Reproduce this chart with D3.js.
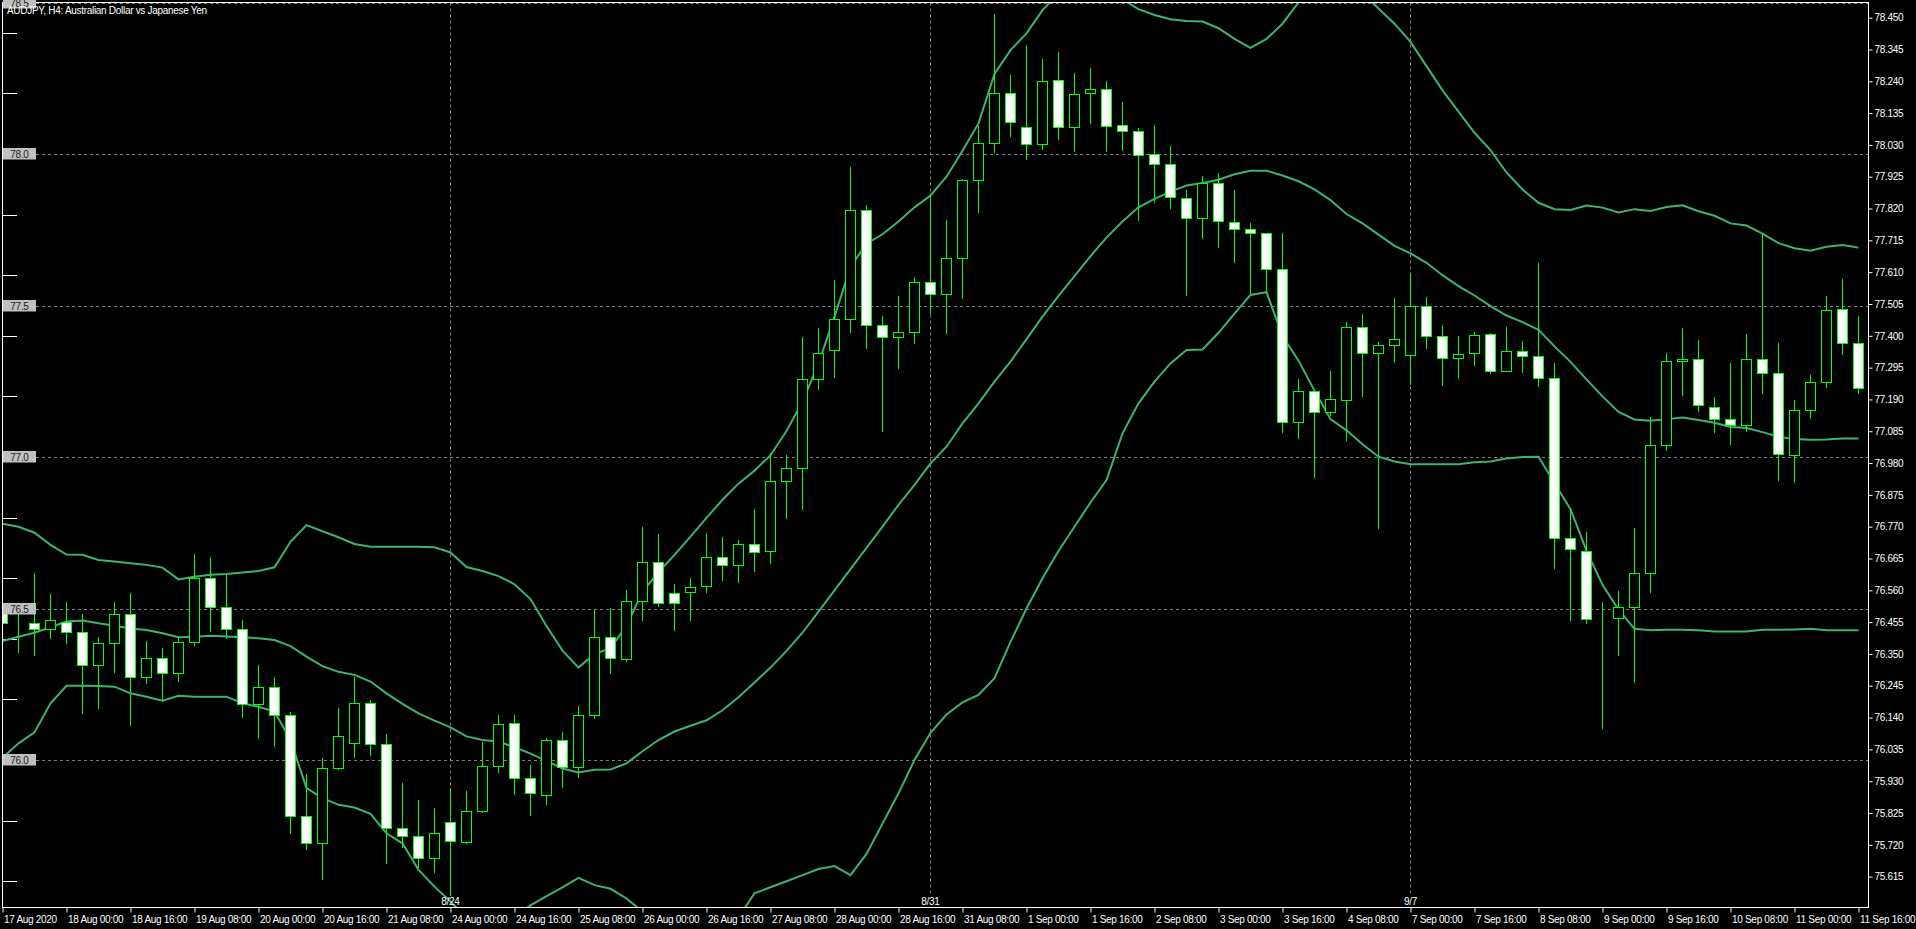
<!DOCTYPE html>
<html><head><meta charset="utf-8">
<script src="https://cdn.jsdelivr.net/npm/d3@7"></script>
<style>
html,body{margin:0;padding:0;background:#000;overflow:hidden;}
svg{display:block;}
text{font-family:"Liberation Sans",Arial,sans-serif;font-size:10px;letter-spacing:-0.3px;}
</style></head><body>
<svg id="chart" width="1916" height="929"></svg>
<script>
const chartTitle = "AUDJPY, H4:  Australian Dollar vs Japanese Yen";

const openPrices = [76.484,76.455,76.451,76.431,76.457,76.422,76.313,76.385,76.481,76.273,76.336,76.286,76.388,76.600,76.504,76.431,76.184,76.240,76.148,75.814,
75.725,75.973,76.055,76.187,76.052,75.775,75.748,75.677,75.797,75.729,75.831,75.979,76.121,75.940,75.883,76.065,75.976,76.147,76.405,76.332,
76.526,76.653,76.551,76.554,76.573,76.669,76.643,76.714,76.690,76.920,76.965,77.257,77.353,77.454,77.814,77.434,77.395,77.412,77.579,77.538,
77.656,77.913,78.035,78.200,78.088,78.032,78.243,78.088,78.200,78.214,78.095,78.075,77.999,77.966,77.856,77.788,77.905,77.777,77.751,77.738,
77.622,77.114,77.217,77.150,77.188,77.428,77.343,77.371,77.335,77.498,77.399,77.327,77.343,77.405,77.283,77.351,77.333,77.260,76.732,76.691,
76.470,76.470,76.506,76.616,77.041,77.316,77.325,77.166,77.124,77.104,77.322,77.277,77.008,77.154,77.249,77.487,77.375];
const highPrices = [76.520,76.484,76.618,76.548,76.522,76.482,76.406,76.522,76.551,76.392,76.370,76.407,76.680,76.669,76.611,76.462,76.314,76.274,76.159,75.954,
76.007,76.172,76.275,76.198,76.086,75.923,75.868,75.841,75.907,75.899,76.061,76.149,76.149,75.984,76.073,76.092,76.178,76.494,76.501,76.562,
76.770,76.747,76.580,76.601,76.750,76.737,76.727,76.830,77.014,77.007,77.395,77.426,77.584,77.956,77.831,77.465,77.531,77.593,77.861,77.782,
77.917,78.092,78.462,78.261,78.360,78.312,78.337,78.266,78.284,78.241,78.172,78.086,78.095,78.027,77.881,77.928,77.936,77.882,77.772,77.738,
77.738,77.257,77.220,77.284,77.445,77.472,77.380,77.525,77.603,77.528,77.436,77.400,77.412,77.409,77.428,77.382,77.641,77.309,76.831,76.754,
76.523,76.558,76.766,77.132,77.344,77.425,77.386,77.198,77.311,77.406,77.735,77.377,77.188,77.271,77.533,77.588,77.465];
const lowPrices = [76.430,76.358,76.347,76.404,76.387,76.154,76.173,76.292,76.115,76.255,76.198,76.262,76.379,76.427,76.404,76.143,76.074,76.047,75.760,75.707,
75.607,75.970,76.011,76.018,75.659,75.714,75.648,75.629,75.554,75.726,75.830,75.959,75.888,75.817,75.854,75.911,75.943,76.138,76.287,76.326,
76.462,76.507,76.429,76.462,76.556,76.593,76.588,76.625,76.650,76.800,76.830,77.223,77.265,77.414,77.361,77.087,77.293,77.375,77.474,77.408,
77.524,77.810,78.008,78.061,77.982,78.016,78.048,78.011,78.103,78.011,78.013,77.782,77.840,77.823,77.536,77.724,77.694,77.644,77.541,77.541,
77.084,77.063,76.933,77.138,77.057,77.202,76.767,77.315,77.242,77.361,77.237,77.262,77.302,77.277,77.283,77.282,77.235,76.635,76.461,76.451,
76.104,76.345,76.257,76.556,77.024,77.206,77.153,77.083,77.044,77.087,77.210,76.925,76.919,77.130,77.232,77.341,77.210];
const closePrices = [76.451,76.455,76.431,76.461,76.422,76.313,76.385,76.481,76.273,76.336,76.286,76.388,76.602,76.504,76.431,76.184,76.240,76.148,75.814,75.725,
75.973,76.078,76.187,76.052,75.776,75.749,75.677,75.758,75.732,75.831,75.979,76.118,75.940,75.891,76.065,75.976,76.147,76.405,76.337,76.526,
76.653,76.517,76.517,76.570,76.669,76.643,76.714,76.688,76.920,76.963,77.257,77.342,77.454,77.814,77.436,77.395,77.412,77.579,77.538,77.656,
77.913,78.035,78.200,78.105,78.032,78.241,78.088,78.197,78.214,78.094,78.075,77.996,77.966,77.857,77.788,77.905,77.779,77.751,77.739,77.622,
77.114,77.217,77.150,77.191,77.428,77.343,77.369,77.389,77.500,77.399,77.327,77.339,77.401,77.283,77.351,77.333,77.260,76.732,76.696,76.465,
76.470,76.504,76.616,77.041,77.316,77.325,77.170,77.124,77.104,77.322,77.277,77.011,77.154,77.247,77.485,77.375,77.227];

const bbUpper = [76.780,76.770,76.750,76.710,76.678,76.677,76.660,76.655,76.649,76.644,76.635,76.596,76.605,76.611,76.614,76.619,76.624,76.636,76.720,76.775,
76.755,76.735,76.713,76.704,76.704,76.704,76.704,76.702,76.685,76.637,76.624,76.607,76.580,76.531,76.442,76.361,76.305,76.350,76.369,76.442,
76.556,76.620,76.677,76.737,76.799,76.859,76.912,76.955,77.006,77.086,77.183,77.309,77.463,77.628,77.704,77.735,77.777,77.824,77.863,77.925,
78.011,78.101,78.264,78.343,78.398,78.475,78.530,78.570,78.580,78.550,78.510,78.478,78.459,78.445,78.439,78.437,78.415,78.380,78.350,78.380,
78.430,78.500,78.540,78.560,78.560,78.530,78.480,78.430,78.370,78.290,78.210,78.140,78.070,78.013,77.939,77.883,77.839,77.818,77.815,77.830,
77.823,77.807,77.818,77.812,77.825,77.831,77.811,77.796,77.771,77.764,77.737,77.706,77.689,77.681,77.694,77.700,77.691];
const bbMiddle = [76.393,76.407,76.420,76.438,76.457,76.460,76.451,76.443,76.434,76.429,76.418,76.405,76.407,76.410,76.408,76.405,76.402,76.396,76.376,76.341,
76.310,76.291,76.281,76.259,76.220,76.185,76.154,76.130,76.108,76.078,76.066,76.061,76.042,76.021,75.997,75.972,75.959,75.968,75.969,75.989,
76.029,76.066,76.094,76.113,76.131,76.164,76.207,76.256,76.305,76.360,76.420,76.490,76.560,76.630,76.700,76.770,76.842,76.908,76.979,77.034,
77.111,77.177,77.249,77.315,77.389,77.463,77.532,77.597,77.663,77.724,77.777,77.824,77.852,77.876,77.896,77.904,77.915,77.933,77.945,77.945,
77.929,77.910,77.883,77.848,77.802,77.771,77.734,77.697,77.672,77.641,77.600,77.564,77.533,77.498,77.467,77.445,77.420,77.365,77.314,77.256,
77.200,77.149,77.124,77.120,77.125,77.130,77.122,77.113,77.099,77.096,77.082,77.067,77.059,77.057,77.058,77.061,77.061];
const bbLower = [76.007,76.055,76.091,76.187,76.245,76.245,76.244,76.242,76.220,76.209,76.196,76.212,76.209,76.209,76.209,76.187,76.176,76.160,76.066,75.907,
75.874,75.852,75.843,75.822,75.758,75.725,75.637,75.582,75.533,75.480,75.460,75.460,75.480,75.520,75.551,75.580,75.611,75.587,75.575,75.543,
75.500,75.450,75.410,75.390,75.390,75.410,75.480,75.560,75.580,75.600,75.620,75.640,75.650,75.620,75.690,75.790,75.890,76.000,76.090,76.150,
76.190,76.215,76.270,76.390,76.500,76.600,76.690,76.770,76.850,76.924,77.078,77.177,77.249,77.309,77.353,77.355,77.410,77.473,77.535,77.544,
77.399,77.318,77.219,77.125,77.088,77.042,77.001,76.985,76.976,76.976,76.976,76.976,76.983,76.985,76.995,77.000,77.001,76.914,76.828,76.691,
76.578,76.496,76.433,76.428,76.430,76.430,76.428,76.424,76.424,76.424,76.430,76.430,76.431,76.433,76.428,76.428,76.428];

const timeTickLabels = ["17 Aug 2020","18 Aug 00:00","18 Aug 16:00","19 Aug 08:00","20 Aug 00:00","20 Aug 16:00","21 Aug 08:00","24 Aug 00:00",
"24 Aug 16:00","25 Aug 08:00","26 Aug 00:00","26 Aug 16:00","27 Aug 08:00","28 Aug 00:00","28 Aug 16:00","31 Aug 08:00","1 Sep 00:00",
"1 Sep 16:00","2 Sep 08:00","3 Sep 00:00","3 Sep 16:00","4 Sep 08:00","7 Sep 00:00","7 Sep 16:00","8 Sep 08:00","9 Sep 00:00","9 Sep 16:00",
"10 Sep 08:00","11 Sep 00:00","11 Sep 16:00"];
const barsPerTimeTick = 4;
const weekSeparators = [{label:"8/24", bar:28},{label:"8/31", bar:58},{label:"9/7", bar:88}];
const priceTicks = [75.615,75.720,75.825,75.930,76.035,76.140,76.245,76.350,76.455,76.560,76.665,76.770,76.875,76.980,77.085,77.190,77.295,77.400,77.505,77.610,77.715,77.820,77.925,78.030,78.135,78.240,78.345,78.450];
const roundLevels = [78.5,78.0,77.5,77.0,76.5,76.0];
const minorLevels = [75.6,75.8,76.0,76.2,76.4,76.6,76.8,77.0,77.2,77.4,77.6,77.8,78.0,78.2,78.4];

const candles = openPrices.map((o,i)=>({i, o, h:highPrices[i], l:lowPrices[i], c:closePrices[i]}));

const W = 1916, H = 929;
const L = 2.5, R = 1868.5, T = 2.5, B = 907.5;
const svg = d3.select("#chart");
svg.append("rect").attr("width",W).attr("height",H).attr("fill","#000");

const x = d3.scaleLinear().domain([0, candles.length-1]).range([2.5, 2.5 + 16*(candles.length-1)]);
const y = d3.scaleLinear().domain([76, 78]).range([760, 154]);
const py = v => Math.round(y(v)) + 0.5;

svg.append("clipPath").attr("id","plot").append("rect").attr("x",L).attr("y",T).attr("width",R-L).attr("height",B-T);
const plot = svg.append("g").attr("clip-path","url(#plot)");

// horizontal dashed round levels
plot.selectAll("line.lvl").data(roundLevels).join("line").attr("class","lvl")
  .attr("x1",36).attr("x2",R).attr("y1",d=>py(d)).attr("y2",d=>py(d))
  .attr("stroke","#808080").attr("stroke-dasharray","3,3").attr("stroke-width",1);

// week separators
plot.selectAll("line.wk").data(weekSeparators).join("line").attr("class","wk")
  .attr("x1",d=>x(d.bar)).attr("x2",d=>x(d.bar)).attr("y1",T).attr("y2",893)
  .attr("stroke","#808080").attr("stroke-dasharray","3,3").attr("stroke-width",1);

// minor ticks on the left
plot.selectAll("line.mt").data(minorLevels).join("line").attr("class","mt")
  .attr("x1",L).attr("x2",17).attr("y1",d=>py(d)).attr("y2",d=>py(d))
  .attr("stroke","#fff").attr("stroke-width",1);

// Bollinger bands
const bandLine = d3.line().x((d,i)=>x(i)).y(d=>y(d));
[bbUpper, bbMiddle, bbLower].forEach(arr=>{
  plot.append("path").datum(arr).attr("d",bandLine).attr("fill","none")
    .attr("stroke","#3CB371").attr("stroke-width",2);
});

// candles
const cg = plot.selectAll("g.candle").data(candles).join("g").attr("class","candle");
cg.append("line").attr("x1",d=>x(d.i)).attr("x2",d=>x(d.i))
  .attr("y1",d=>Math.round(y(d.h))).attr("y2",d=>Math.round(y(d.l))+1)
  .attr("stroke","#00ff00").attr("stroke-width",1);
cg.append("rect")
  .attr("x",d=>x(d.i)-5).attr("width",10)
  .attr("y",d=>py(Math.max(d.o,d.c)))
  .attr("height",d=>Math.max(0, py(Math.min(d.o,d.c)) - py(Math.max(d.o,d.c))))
  .attr("fill",d=>d.c>=d.o ? "#000" : "#fff")
  .attr("stroke","#00ff00").attr("stroke-width",1);

// week labels
plot.selectAll("text.wk").data(weekSeparators).join("text").attr("class","wk")
  .attr("x",d=>x(d.bar)).attr("y",905).attr("text-anchor","middle").attr("fill","#fff").text(d=>d.label);

// frame
svg.append("rect").attr("x",L).attr("y",T).attr("width",R-L).attr("height",B-T)
  .attr("fill","none").attr("stroke","#fff").attr("stroke-width",1);

// left round-level labels (drawn over the frame, like the reference)
const lab = svg.selectAll("g.lab").data(roundLevels).join("g").attr("class","lab");
lab.append("rect").attr("x",3).attr("width",33).attr("y",d=>Math.round(y(d))-6).attr("height",11.5).attr("fill","#c0c0c0");
lab.append("text").attr("x",19.5).attr("y",d=>Math.round(y(d))+3.5).attr("text-anchor","middle")
  .attr("fill","#202020").text(d=>d.toFixed(1));

// price axis
const yAxis = d3.axisRight(y).tickValues(priceTicks).tickFormat(d3.format(".3f")).tickSize(4).tickPadding(2);
const ga = svg.append("g").attr("transform",`translate(${R},0)`).call(yAxis);
ga.select(".domain").remove();
ga.selectAll("line").attr("stroke","#fff");
ga.selectAll("text").attr("fill","#fff").style("font-family",'"Liberation Sans",Arial,sans-serif').style("font-size","10px");

// time axis
const tickBars = timeTickLabels.map((_,i)=>i*barsPerTimeTick);
const xAxis = d3.axisBottom(x).tickValues(tickBars).tickFormat((d,i)=>timeTickLabels[i]).tickSize(5).tickPadding(3);
const gx = svg.append("g").attr("transform",`translate(0,${B})`).call(xAxis);
gx.select(".domain").remove();
gx.selectAll("line").attr("stroke","#fff");
gx.selectAll("text").attr("fill","#fff").attr("text-anchor","start").attr("dx","1")
  .style("font-family",'"Liberation Sans",Arial,sans-serif').style("font-size","10px");

// title
svg.append("text").attr("x",7).attr("y",14).attr("fill","#fff").text(chartTitle);
</script>
</body></html>
